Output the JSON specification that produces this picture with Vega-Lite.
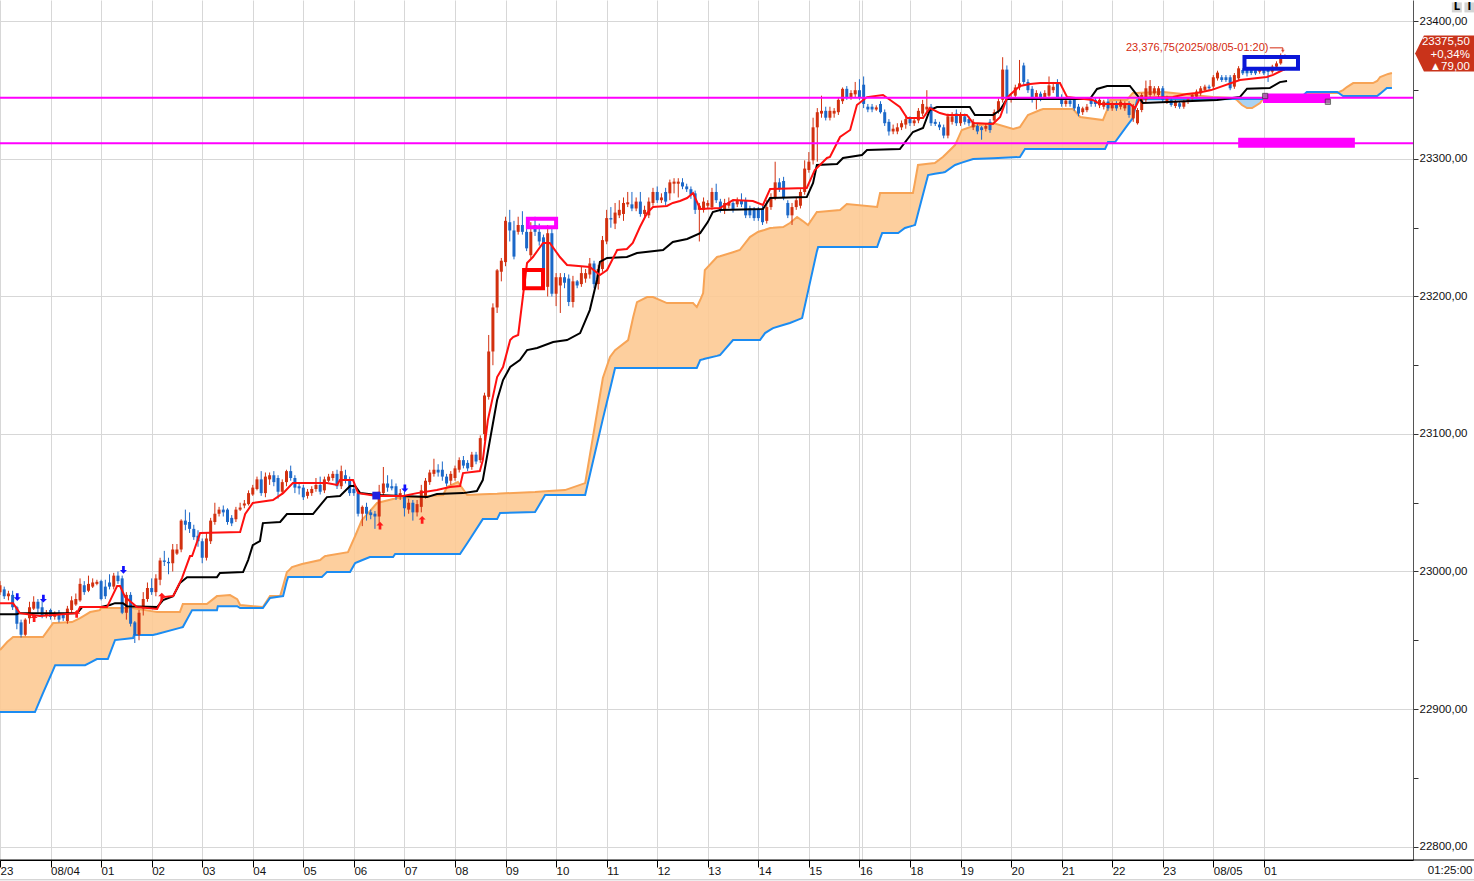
{
  "$schema": "https://vega.github.io/schema/vega-lite/v6.json",
  "width": 1413,
  "height": 860,
  "autosize": {"type": "none"},
  "padding": {"left": 0, "top": 0, "right": 61, "bottom": 21},
  "background": "white",
  "config": {
    "view": {"stroke": null},
    "font": "Liberation Sans",
    "axis": {"labelFont": "Liberation Sans", "titleFont": "Liberation Sans"}
  },
  "datasets": {
    "bars": [
      {"i":0,"o":22985,"h":22993,"l":22983,"c":22990},{"i":1,"o":22987,"h":22989,"l":22980,"c":22982},{"i":2,"o":22982,"h":22986,"l":22979,"c":22984},{"i":3,"o":22983,"h":22986,"l":22972,"c":22974},{"i":4,"o":22974,"h":22975,"l":22958,"c":22962},{"i":5,"o":22963,"h":22965,"l":22952,"c":22954},{"i":6,"o":22954,"h":22966,"l":22953,"c":22965},{"i":7,"o":22966,"h":22978,"l":22962,"c":22974},{"i":8,"o":22973,"h":22982,"l":22972,"c":22978},{"i":9,"o":22978,"h":22980,"l":22970,"c":22973},
      {"i":10,"o":22974,"h":22980,"l":22966,"c":22968},{"i":11,"o":22968,"h":22972,"l":22966,"c":22970},{"i":12,"o":22972,"h":22973,"l":22965,"c":22967},{"i":13,"o":22967,"h":22971,"l":22965,"c":22969},{"i":14,"o":22970,"h":22972,"l":22963,"c":22965},{"i":15,"o":22969,"h":22970,"l":22964,"c":22966},{"i":16,"o":22964,"h":22975,"l":22962,"c":22973},{"i":17,"o":22972,"h":22982,"l":22970,"c":22979},{"i":18,"o":22976,"h":22984,"l":22975,"c":22980},{"i":19,"o":22979,"h":22995,"l":22978,"c":22991},
      {"i":20,"o":22990,"h":22993,"l":22983,"c":22985},{"i":21,"o":22986,"h":22997,"l":22985,"c":22991},{"i":22,"o":22989,"h":22995,"l":22988,"c":22992},{"i":23,"o":22991,"h":22994,"l":22990,"c":22992.5},{"i":24,"o":22993,"h":22994,"l":22979,"c":22980},{"i":25,"o":22989,"h":22994,"l":22980,"c":22982},{"i":26,"o":22992,"h":22998,"l":22987,"c":22989},{"i":27,"o":22989,"h":22999,"l":22987,"c":22997},{"i":28,"o":22997,"h":23000,"l":22991,"c":22993},{"i":29,"o":22995,"h":22997,"l":22969,"c":22970},
      {"i":30,"o":22970,"h":22985,"l":22965,"c":22983},{"i":31,"o":22983,"h":22985,"l":22960,"c":22962},{"i":32,"o":22963,"h":22964,"l":22948,"c":22954},{"i":33,"o":22954,"h":22972,"l":22950,"c":22970},{"i":34,"o":22973,"h":22985,"l":22968,"c":22980},{"i":35,"o":22980,"h":22992,"l":22978,"c":22988},{"i":36,"o":22988,"h":22995,"l":22983,"c":22985},{"i":37,"o":22985,"h":22998,"l":22982,"c":22995},{"i":38,"o":22994,"h":23010,"l":22990,"c":23008},{"i":39,"o":23008,"h":23015,"l":23004,"c":23007},
      {"i":40,"o":23007,"h":23010,"l":22998,"c":23006},{"i":41,"o":23006,"h":23020,"l":23000,"c":23016},{"i":42,"o":23013,"h":23020,"l":23012,"c":23016},{"i":43,"o":23016,"h":23038,"l":23014,"c":23037},{"i":44,"o":23037,"h":23045,"l":23030,"c":23034},{"i":45,"o":23036,"h":23043,"l":23028,"c":23031},{"i":46,"o":23031,"h":23034,"l":23023,"c":23025},{"i":47,"o":23026,"h":23030,"l":23018,"c":23022},{"i":48,"o":23022,"h":23024,"l":23006,"c":23010},{"i":49,"o":23010,"h":23028,"l":23008,"c":23024},
      {"i":50,"o":23022,"h":23039,"l":23020,"c":23037},{"i":51,"o":23036,"h":23050,"l":23034,"c":23042},{"i":52,"o":23042,"h":23047,"l":23040,"c":23045},{"i":53,"o":23045,"h":23048,"l":23040,"c":23043},{"i":54,"o":23045,"h":23046,"l":23034,"c":23036},{"i":55,"o":23039,"h":23041,"l":23033,"c":23035},{"i":56,"o":23038,"h":23047,"l":23036,"c":23045},{"i":57,"o":23045,"h":23050,"l":23044,"c":23046.5},{"i":58,"o":23048,"h":23052,"l":23046,"c":23049.5},{"i":59,"o":23049,"h":23059,"l":23048,"c":23057},
      {"i":60,"o":23056,"h":23063,"l":23055,"c":23061},{"i":61,"o":23060,"h":23069,"l":23059,"c":23067},{"i":62,"o":23067,"h":23073,"l":23055,"c":23057},{"i":63,"o":23057,"h":23072,"l":23054,"c":23069},{"i":64,"o":23067,"h":23072,"l":23063,"c":23070},{"i":65,"o":23070,"h":23073,"l":23062,"c":23065},{"i":66,"o":23068,"h":23070,"l":23053,"c":23058},{"i":67,"o":23058,"h":23067,"l":23056,"c":23065},{"i":68,"o":23065,"h":23074,"l":23062,"c":23073},{"i":69,"o":23073,"h":23077,"l":23066,"c":23068},
      {"i":70,"o":23068,"h":23070,"l":23057,"c":23061},{"i":71,"o":23062,"h":23064,"l":23056,"c":23060.5},{"i":72,"o":23061,"h":23063,"l":23052,"c":23054},{"i":73,"o":23055,"h":23060,"l":23053,"c":23058},{"i":74,"o":23057,"h":23062,"l":23055,"c":23060},{"i":75,"o":23060,"h":23068,"l":23058,"c":23063},{"i":76,"o":23063,"h":23069,"l":23056,"c":23058},{"i":77,"o":23059,"h":23069,"l":23057,"c":23067},{"i":78,"o":23066,"h":23071,"l":23065,"c":23069},{"i":79,"o":23068,"h":23073,"l":23066,"c":23071},
      {"i":80,"o":23071,"h":23074,"l":23060,"c":23062},{"i":81,"o":23062,"h":23077,"l":23060,"c":23073},{"i":82,"o":23070,"h":23074,"l":23064,"c":23067},{"i":83,"o":23067,"h":23069,"l":23055,"c":23057},{"i":84,"o":23060,"h":23064,"l":23055,"c":23057},{"i":85,"o":23057,"h":23058,"l":23040,"c":23042},{"i":86,"o":23042,"h":23048,"l":23033,"c":23047},{"i":87,"o":23047,"h":23050,"l":23037,"c":23042},{"i":88,"o":23043,"h":23045,"l":23038,"c":23041},{"i":89,"o":23042,"h":23044,"l":23031,"c":23040},
      {"i":90,"o":23040,"h":23063,"l":23035,"c":23058},{"i":91,"o":23057,"h":23076,"l":23055,"c":23064},{"i":92,"o":23064,"h":23070,"l":23058,"c":23061},{"i":93,"o":23062,"h":23067,"l":23059,"c":23060.5},{"i":94,"o":23062,"h":23064,"l":23052,"c":23054},{"i":95,"o":23055,"h":23060,"l":23052,"c":23057},{"i":96,"o":23055,"h":23058,"l":23040,"c":23046},{"i":97,"o":23045,"h":23053,"l":23042,"c":23050},{"i":98,"o":23050,"h":23052,"l":23037,"c":23043},{"i":99,"o":23043,"h":23052,"l":23040,"c":23049},
      {"i":100,"o":23047,"h":23063,"l":23043,"c":23059},{"i":101,"o":23055,"h":23068,"l":23053,"c":23066},{"i":102,"o":23065,"h":23074,"l":23063,"c":23072},{"i":103,"o":23071,"h":23082,"l":23069,"c":23074},{"i":104,"o":23074,"h":23078,"l":23069,"c":23072},{"i":105,"o":23074,"h":23080,"l":23066,"c":23069},{"i":106,"o":23069,"h":23071,"l":23062,"c":23064},{"i":107,"o":23066,"h":23073,"l":23063,"c":23071},{"i":108,"o":23068,"h":23077,"l":23066,"c":23075},{"i":109,"o":23074,"h":23083,"l":23072,"c":23081},
      {"i":110,"o":23081,"h":23084,"l":23075,"c":23077},{"i":111,"o":23079,"h":23081,"l":23073,"c":23075},{"i":112,"o":23076,"h":23087,"l":23074,"c":23085},{"i":113,"o":23085,"h":23087,"l":23078,"c":23080},{"i":114,"o":23081,"h":23099,"l":23079,"c":23097},{"i":115,"o":23100,"h":23130,"l":23095,"c":23128},{"i":116,"o":23127,"h":23172,"l":23125,"c":23160},{"i":117,"o":23160,"h":23195,"l":23150,"c":23192},{"i":118,"o":23192,"h":23220,"l":23188,"c":23219},{"i":119,"o":23218,"h":23228,"l":23211,"c":23226},
      {"i":120,"o":23225,"h":23258,"l":23222,"c":23255},{"i":121,"o":23254,"h":23263,"l":23240,"c":23248},{"i":122,"o":23248,"h":23255,"l":23227,"c":23229},{"i":123,"o":23247,"h":23258,"l":23245,"c":23252},{"i":124,"o":23252,"h":23262,"l":23245,"c":23247},{"i":125,"o":23247,"h":23250,"l":23233,"c":23235},{"i":126,"o":23230,"h":23254,"l":23228,"c":23247},{"i":127,"o":23252,"h":23258,"l":23244,"c":23247},{"i":128,"o":23247,"h":23253,"l":23237,"c":23240},{"i":129,"o":23243,"h":23245,"l":23216,"c":23218},
      {"i":130,"o":23207,"h":23252,"l":23200,"c":23246},{"i":131,"o":23246,"h":23250,"l":23200,"c":23202},{"i":132,"o":23202,"h":23217,"l":23193,"c":23214},{"i":133,"o":23208,"h":23217,"l":23188,"c":23214},{"i":134,"o":23214,"h":23217,"l":23206,"c":23210},{"i":135,"o":23213,"h":23216,"l":23193,"c":23196},{"i":136,"o":23196,"h":23215,"l":23192,"c":23211},{"i":137,"o":23211,"h":23212,"l":23206,"c":23208},{"i":138,"o":23209,"h":23222,"l":23207,"c":23217},{"i":139,"o":23213,"h":23220,"l":23210,"c":23217},
      {"i":140,"o":23216,"h":23228,"l":23213,"c":23224},{"i":141,"o":23224,"h":23226,"l":23206,"c":23209},{"i":142,"o":23209,"h":23223,"l":23205,"c":23220},{"i":143,"o":23220,"h":23244,"l":23218,"c":23241},{"i":144,"o":23240,"h":23263,"l":23238,"c":23257},{"i":145,"o":23257,"h":23265,"l":23250,"c":23256},{"i":146,"o":23253,"h":23268,"l":23249,"c":23261},{"i":147,"o":23259,"h":23270,"l":23257,"c":23263},{"i":148,"o":23260,"h":23272,"l":23255,"c":23268},{"i":149,"o":23267,"h":23276,"l":23265,"c":23268.5},
      {"i":150,"o":23267,"h":23276,"l":23262,"c":23264},{"i":151,"o":23264,"h":23272,"l":23262,"c":23269},{"i":152,"o":23269,"h":23276,"l":23258,"c":23260},{"i":153,"o":23260,"h":23266,"l":23258,"c":23263},{"i":154,"o":23259,"h":23272,"l":23257,"c":23269},{"i":155,"o":23268,"h":23279,"l":23266,"c":23276},{"i":156,"o":23276,"h":23280,"l":23268,"c":23270},{"i":157,"o":23270,"h":23275,"l":23268,"c":23272},{"i":158,"o":23276,"h":23279,"l":23266,"c":23269},{"i":159,"o":23275,"h":23285,"l":23270,"c":23283},
      {"i":160,"o":23282,"h":23286,"l":23275,"c":23283.5},{"i":161,"o":23282,"h":23286,"l":23272,"c":23283.5},{"i":162,"o":23283,"h":23286,"l":23278,"c":23280},{"i":163,"o":23280,"h":23282,"l":23276,"c":23278},{"i":164,"o":23278,"h":23280,"l":23271,"c":23274},{"i":165,"o":23275,"h":23277,"l":23260,"c":23263},{"i":166,"o":23263,"h":23268,"l":23240,"c":23266},{"i":167,"o":23263,"h":23272,"l":23261,"c":23269},{"i":168,"o":23266,"h":23270,"l":23264,"c":23268},{"i":169,"o":23265,"h":23279,"l":23263,"c":23276},
      {"i":170,"o":23276,"h":23282,"l":23268,"c":23270},{"i":171,"o":23269,"h":23271,"l":23261,"c":23263},{"i":172,"o":23263,"h":23271,"l":23260,"c":23268},{"i":173,"o":23266,"h":23272,"l":23264,"c":23268},{"i":174,"o":23268,"h":23270,"l":23261,"c":23263},{"i":175,"o":23267,"h":23272,"l":23265,"c":23270},{"i":176,"o":23270,"h":23275,"l":23265,"c":23267},{"i":177,"o":23270,"h":23272,"l":23257,"c":23259},{"i":178,"o":23264,"h":23266,"l":23257,"c":23259},{"i":179,"o":23263,"h":23265,"l":23255,"c":23257},
      {"i":180,"o":23263,"h":23265,"l":23255,"c":23257},{"i":181,"o":23264,"h":23266,"l":23252,"c":23254},{"i":182,"o":23255,"h":23270,"l":23253,"c":23265},{"i":183,"o":23265,"h":23275,"l":23263,"c":23272},{"i":184,"o":23272,"h":23298,"l":23270,"c":23283},{"i":185,"o":23283,"h":23286,"l":23276,"c":23278},{"i":186,"o":23284,"h":23287,"l":23270,"c":23272},{"i":187,"o":23268,"h":23270,"l":23257,"c":23259},{"i":188,"o":23259,"h":23268,"l":23252,"c":23265},{"i":189,"o":23265,"h":23272,"l":23263,"c":23270},
      {"i":190,"o":23266,"h":23278,"l":23264,"c":23276},{"i":191,"o":23276,"h":23299,"l":23274,"c":23293},{"i":192,"o":23292,"h":23305,"l":23290,"c":23298},{"i":193,"o":23299,"h":23330,"l":23296,"c":23323},{"i":194,"o":23323,"h":23337,"l":23298,"c":23334},{"i":195,"o":23333,"h":23346,"l":23330,"c":23335},{"i":196,"o":23335,"h":23338,"l":23328,"c":23330},{"i":197,"o":23330,"h":23338,"l":23328,"c":23335},{"i":198,"o":23333,"h":23337,"l":23330,"c":23335},{"i":199,"o":23334,"h":23345,"l":23332,"c":23343},
      {"i":200,"o":23342,"h":23352,"l":23340,"c":23351},{"i":201,"o":23351,"h":23353,"l":23343,"c":23345},{"i":202,"o":23345,"h":23350,"l":23343,"c":23348},{"i":203,"o":23347,"h":23356,"l":23345,"c":23350},{"i":204,"o":23350,"h":23358,"l":23343,"c":23345},{"i":205,"o":23354,"h":23360,"l":23337,"c":23340},{"i":206,"o":23338,"h":23340,"l":23334,"c":23336},{"i":207,"o":23338,"h":23340,"l":23334,"c":23336},{"i":208,"o":23336,"h":23339,"l":23335,"c":23337.5},{"i":209,"o":23340,"h":23342,"l":23333,"c":23334},
      {"i":210,"o":23334,"h":23336,"l":23324,"c":23326},{"i":211,"o":23327,"h":23329,"l":23317,"c":23320},{"i":212,"o":23320,"h":23325,"l":23318,"c":23322},{"i":213,"o":23320,"h":23326,"l":23318,"c":23323},{"i":214,"o":23323,"h":23328,"l":23321,"c":23326},{"i":215,"o":23325,"h":23332,"l":23322,"c":23329},{"i":216,"o":23329,"h":23331,"l":23324,"c":23326},{"i":217,"o":23326,"h":23330,"l":23324,"c":23328},{"i":218,"o":23328,"h":23337,"l":23326,"c":23335},{"i":219,"o":23333,"h":23343,"l":23331,"c":23340},
      {"i":220,"o":23336,"h":23350,"l":23334,"c":23338},{"i":221,"o":23338,"h":23340,"l":23324,"c":23326},{"i":222,"o":23327,"h":23329,"l":23324,"c":23325.5},{"i":223,"o":23325,"h":23327,"l":23321,"c":23323},{"i":224,"o":23323,"h":23325,"l":23315,"c":23317},{"i":225,"o":23317,"h":23333,"l":23315,"c":23331},{"i":226,"o":23327,"h":23334,"l":23325,"c":23331},{"i":227,"o":23333,"h":23336,"l":23324,"c":23326},{"i":228,"o":23326,"h":23334,"l":23324,"c":23332},{"i":229,"o":23331,"h":23333,"l":23325,"c":23327},
      {"i":230,"o":23329,"h":23331,"l":23324,"c":23326},{"i":231,"o":23323,"h":23329,"l":23321,"c":23327},{"i":232,"o":23324,"h":23326,"l":23318,"c":23320},{"i":233,"o":23323,"h":23324,"l":23314,"c":23321},{"i":234,"o":23322,"h":23326,"l":23320,"c":23324},{"i":235,"o":23327,"h":23329,"l":23319,"c":23321},{"i":236,"o":23328,"h":23336,"l":23326,"c":23334},{"i":237,"o":23335,"h":23344,"l":23333,"c":23342},{"i":238,"o":23343,"h":23374,"l":23341,"c":23365},{"i":239,"o":23365,"h":23368,"l":23333,"c":23344},
      {"i":240,"o":23343,"h":23347,"l":23341,"c":23345},{"i":241,"o":23346,"h":23354,"l":23344,"c":23352},{"i":242,"o":23352,"h":23372,"l":23350,"c":23355},{"i":243,"o":23368,"h":23370,"l":23354,"c":23356},{"i":244,"o":23356,"h":23358,"l":23348,"c":23350},{"i":245,"o":23351,"h":23353,"l":23341,"c":23343},{"i":246,"o":23344,"h":23350,"l":23336,"c":23348},{"i":247,"o":23347.5,"h":23349,"l":23342,"c":23344},{"i":248,"o":23345,"h":23350,"l":23343,"c":23348},{"i":249,"o":23346,"h":23360,"l":23344,"c":23353.5},
      {"i":250,"o":23350,"h":23356,"l":23348,"c":23352.5},{"i":251,"o":23355,"h":23358,"l":23343,"c":23345},{"i":252,"o":23345,"h":23347,"l":23338,"c":23340},{"i":253,"o":23340,"h":23344,"l":23338,"c":23342.5},{"i":254,"o":23342.5,"h":23344,"l":23338,"c":23340},{"i":255,"o":23343,"h":23345,"l":23335,"c":23336.8},{"i":256,"o":23338,"h":23340,"l":23331,"c":23333},{"i":257,"o":23334,"h":23338,"l":23332,"c":23336.8},{"i":258,"o":23335.5,"h":23340,"l":23334,"c":23338},{"i":259,"o":23343,"h":23345,"l":23338,"c":23340},
      {"i":260,"o":23343,"h":23345,"l":23338,"c":23340},{"i":261,"o":23339,"h":23345,"l":23337,"c":23343},{"i":262,"o":23338,"h":23343,"l":23336,"c":23341.7},{"i":263,"o":23341.7,"h":23344,"l":23335,"c":23336.8},{"i":264,"o":23336.8,"h":23342,"l":23335,"c":23340.5},{"i":265,"o":23340.5,"h":23342,"l":23335,"c":23336.8},{"i":266,"o":23338,"h":23343,"l":23336,"c":23341.7},{"i":267,"o":23336.8,"h":23342,"l":23335,"c":23340.5},{"i":268,"o":23340.5,"h":23342,"l":23330,"c":23332},{"i":269,"o":23329.5,"h":23340,"l":23327,"c":23338},
      {"i":270,"o":23326,"h":23337,"l":23325,"c":23335.6},{"i":271,"o":23335.6,"h":23348,"l":23334,"c":23346.5},{"i":272,"o":23343,"h":23357,"l":23341,"c":23351.4},{"i":273,"o":23346.5,"h":23357.4,"l":23345,"c":23353},{"i":274,"o":23347.7,"h":23353,"l":23346,"c":23351.4},{"i":275,"o":23346.5,"h":23353,"l":23345,"c":23351.4},{"i":276,"o":23351.4,"h":23353,"l":23341,"c":23342.9},{"i":277,"o":23341.7,"h":23346,"l":23340,"c":23344.1},{"i":278,"o":23342.9,"h":23345,"l":23338,"c":23339.3},{"i":279,"o":23338.5,"h":23343,"l":23337,"c":23341.7},
      {"i":280,"o":23340.5,"h":23342,"l":23336.5,"c":23338},{"i":281,"o":23338,"h":23343,"l":23336.5,"c":23341.7},{"i":282,"o":23341.7,"h":23345,"l":23340,"c":23343.4},{"i":283,"o":23344,"h":23348,"l":23342.5,"c":23346.5},{"i":284,"o":23345.3,"h":23350.5,"l":23344,"c":23349},{"i":285,"o":23347.7,"h":23353,"l":23346,"c":23351.4},{"i":286,"o":23350.2,"h":23354,"l":23349,"c":23352.6},{"i":287,"o":23352.6,"h":23354,"l":23350,"c":23351.4},{"i":288,"o":23352.6,"h":23361,"l":23351,"c":23359.4},{"i":289,"o":23358.6,"h":23364.2,"l":23357,"c":23362.8},
      {"i":290,"o":23359.4,"h":23361,"l":23356,"c":23357.4},{"i":291,"o":23359.4,"h":23361,"l":23356,"c":23357.4},{"i":292,"o":23359.4,"h":23361,"l":23350,"c":23351.4},{"i":293,"o":23352.6,"h":23362.5,"l":23351,"c":23361},{"i":294,"o":23358.6,"h":23367.5,"l":23357,"c":23365.9},{"i":295,"o":23364.7,"h":23366,"l":23361,"c":23362.3},{"i":296,"o":23364.7,"h":23366,"l":23360,"c":23362.3},{"i":297,"o":23364.7,"h":23366,"l":23361,"c":23362.5},{"i":298,"o":23364.5,"h":23366,"l":23361,"c":23362.3},{"i":299,"o":23363.5,"h":23366,"l":23362,"c":23364.7},
      {"i":300,"o":23364.7,"h":23366,"l":23361,"c":23362.3},{"i":301,"o":23364.7,"h":23365.5,"l":23356,"c":23363.3},{"i":302,"o":23363.5,"h":23368.5,"l":23362,"c":23367.1},{"i":303,"o":23367.1,"h":23371,"l":23366,"c":23369.5},{"i":304,"o":23369.5,"h":23376.75,"l":23368.5,"c":23374.5},{"i":305,"o":23374.5,"h":23376,"l":23373.5,"c":23375.5}
    ],
    "cloud": [
      {"i":0,"a":22942.9,"b":22897.8},{"i":1.7,"a":22948.7,"b":22897.8},{"i":3.1,"a":22952.3,"b":22897.8},{"i":8.3,"a":22952.3,"b":22897.8},{"i":10.2,"a":22952.3,"b":22911.6},{"i":12.6,"a":22962.5,"b":22928.3},{"i":13.1,"a":22962.5,"b":22931.9},{"i":17.1,"a":22963.2,"b":22931.9},{"i":19,"a":22966.1,"b":22931.9},{"i":20.2,"a":22968.3,"b":22931.9},
      {"i":21.4,"a":22970.5,"b":22933.8},{"i":23,"a":22971.5,"b":22936.3},{"i":23.7,"a":22971.9,"b":22936.3},{"i":24,"a":22973.4,"b":22936.3},{"i":25.6,"a":22973.4,"b":22936.3},{"i":27.3,"a":22973.4,"b":22950.1},{"i":31.6,"a":22973.4,"b":22951.6},{"i":31.8,"a":22973.2,"b":22953.8},{"i":36.3,"a":22971.0,"b":22953.8},{"i":37.3,"a":22970.5,"b":22954.5},
      {"i":42.7,"a":22970.5,"b":22959.0},{"i":43.4,"a":22976.3,"b":22959.6},{"i":45.6,"a":22976.3,"b":22971.9},{"i":49.1,"a":22976.3,"b":22971.9},{"i":51.5,"a":22982.1,"b":22971.9},{"i":51.7,"a":22982.1,"b":22974.8},{"i":54.6,"a":22982.9,"b":22974.8},{"i":56.3,"a":22979.9,"b":22974.8},{"i":57,"a":22975.6,"b":22973.4},{"i":62.4,"a":22974.1,"b":22973.4},
      {"i":64.1,"a":22982.1,"b":22980.7},{"i":66.5,"a":22982.1,"b":22981.8},{"i":67.2,"a":22989.6,"b":22982.1},{"i":68.1,"a":22999.6,"b":22993.2},{"i":68.4,"a":23000.3,"b":22996.0},{"i":69.3,"a":23003.2,"b":22996.0},{"i":71.7,"a":23005.4,"b":22996.0},{"i":76,"a":23008.3,"b":22996.0},{"i":76.4,"a":23009.5,"b":22996.0},{"i":77.1,"a":23011.2,"b":22998.1},
      {"i":77.6,"a":23011.4,"b":22999.6},{"i":82.6,"a":23014.1,"b":22999.6},{"i":83.1,"a":23017.5,"b":22999.6},{"i":84.3,"a":23025.8,"b":23006.1},{"i":85.9,"a":23037.4,"b":23008.2},{"i":87.8,"a":23043.9,"b":23010.5},{"i":89.5,"a":23049.8,"b":23010.5},{"i":93.3,"a":23052.7,"b":23010.5},{"i":93.8,"a":23053.0,"b":23012.7},{"i":94.2,"a":23053.4,"b":23012.7},
      {"i":105.2,"a":23055.6,"b":23012.7},{"i":106.1,"a":23061.4,"b":23012.7},{"i":108.7,"a":23065.0,"b":23012.7},{"i":109.2,"a":23062.9,"b":23012.7},{"i":110.9,"a":23055.6,"b":23020.5},{"i":114.6,"a":23056.1,"b":23038.1},{"i":118,"a":23056.5,"b":23038.1},{"i":118.7,"a":23056.7,"b":23042.5},{"i":127,"a":23057.8,"b":23043.2},{"i":129.4,"a":23058.3,"b":23055.6},
      {"i":134.1,"a":23059.2,"b":23055.6},{"i":138.9,"a":23064.3,"b":23055.6},{"i":143.1,"a":23140.7,"b":23111.0},{"i":144.8,"a":23156.0,"b":23132.5},{"i":146,"a":23161.0,"b":23148.0},{"i":149.1,"a":23168.3,"b":23148.0},{"i":150.3,"a":23185.0,"b":23148.0},{"i":151.2,"a":23195.9,"b":23148.0},{"i":153.6,"a":23199.6,"b":23148.0},{"i":155,"a":23199.6,"b":23148.0},
      {"i":158.3,"a":23195.2,"b":23148.0},{"i":164.5,"a":23195.2,"b":23148.0},{"i":165.4,"a":23192.3,"b":23148.0},{"i":166.2,"a":23197.4,"b":23153.8},{"i":166.9,"a":23202.5,"b":23154.3},{"i":167.3,"a":23219.2,"b":23154.7},{"i":170.2,"a":23228.7,"b":23156.8},{"i":170.9,"a":23229.3,"b":23157.4},{"i":174,"a":23232.2,"b":23168.3},{"i":175.6,"a":23233.8,"b":23168.3},
      {"i":178,"a":23243.2,"b":23168.3},{"i":179.9,"a":23246.9,"b":23168.3},{"i":180.4,"a":23247.4,"b":23168.3},{"i":181.6,"a":23248.5,"b":23173.4},{"i":182.8,"a":23249.8,"b":23175.7},{"i":183.5,"a":23249.9,"b":23177.0},{"i":185.9,"a":23250.5,"b":23179.2},{"i":187.5,"a":23253.4,"b":23180.7},{"i":189.2,"a":23257.8,"b":23182.8},{"i":190.4,"a":23255.2,"b":23184.3},
      {"i":191.8,"a":23252.0,"b":23203.7},{"i":193.9,"a":23261.4,"b":23232.8},{"i":194.2,"a":23261.5,"b":23236.0},{"i":199.4,"a":23262.9,"b":23236.0},{"i":201,"a":23267.2,"b":23236.0},{"i":208.2,"a":23265.1,"b":23236.0},{"i":208.9,"a":23275.2,"b":23242.1},{"i":209.4,"a":23275.2,"b":23246.1},{"i":213.2,"a":23275.2,"b":23246.1},{"i":214.8,"a":23275.2,"b":23249.8},
      {"i":216.7,"a":23275.2,"b":23251.5},{"i":217.2,"a":23283.4,"b":23252.0},{"i":217.9,"a":23295.6,"b":23260.3},{"i":220.3,"a":23296.5,"b":23288.3},{"i":221.9,"a":23297.0,"b":23289.2},{"i":223.8,"a":23301.4,"b":23290.2},{"i":224.3,"a":23302.9,"b":23290.5},{"i":226.7,"a":23310.1,"b":23295.6},{"i":228.3,"a":23321.1,"b":23297.3},{"i":231,"a":23324.0,"b":23300.0},
      {"i":235.7,"a":23326.1,"b":23300.6},{"i":240.5,"a":23321.8,"b":23301.2},{"i":242.1,"a":23323.2,"b":23301.4},{"i":243.3,"a":23328.7,"b":23307.2},{"i":244,"a":23332.0,"b":23307.2},{"i":246.9,"a":23335.6,"b":23307.2},{"i":247.6,"a":23336.3,"b":23307.2},{"i":254.7,"a":23336.3,"b":23307.2},{"i":256.4,"a":23330.5,"b":23307.2},{"i":261.8,"a":23328.3,"b":23307.2},
      {"i":262.3,"a":23332.0,"b":23307.2},{"i":262.8,"a":23335.6,"b":23310.6},{"i":263,"a":23338.0,"b":23312.3},{"i":263.5,"a":23342.9,"b":23312.3},{"i":264.7,"a":23342.9,"b":23312.3},{"i":267.5,"a":23342.9,"b":23324.0},{"i":268.9,"a":23348.0,"b":23329.8},{"i":269.9,"a":23348.0,"b":23342.9},{"i":270.6,"a":23348.1,"b":23343.4},{"i":276.1,"a":23348.7,"b":23343.5},
      {"i":280.8,"a":23347.2,"b":23343.5},{"i":287.9,"a":23345.0,"b":23343.5},{"i":292.7,"a":23344.3,"b":23343.6},{"i":293.6,"a":23342.9,"b":23343.6},{"i":294.8,"a":23339.2,"b":23343.6},{"i":296,"a":23337.0,"b":23343.6},{"i":297.2,"a":23337.0,"b":23343.6},{"i":299.1,"a":23340.7,"b":23343.6},{"i":299.8,"a":23343.6,"b":23343.6},{"i":308.6,"a":23344.0,"b":23344.1},
      {"i":310.2,"a":23348.0,"b":23348.7},{"i":317.4,"a":23348.0,"b":23348.7},{"i":318.8,"a":23350.1,"b":23345.8},{"i":319.7,"a":23352.3,"b":23345.8},{"i":321.2,"a":23355.2,"b":23345.8},{"i":325.9,"a":23355.2,"b":23345.8},{"i":326.9,"a":23356.7,"b":23345.8},{"i":327.6,"a":23359.6,"b":23347.5},{"i":329.2,"a":23361.5,"b":23351.6},{"i":329.5,"a":23361.8,"b":23351.6},
      {"i":330.4,"a":23362.5,"b":23351.6}
    ],
    "tenkan": [
      {"i":0,"p":22977},{"i":3.1,"p":22977},{"i":4.7,"p":22969.7},{"i":9.5,"p":22967.6},{"i":18.3,"p":22969.7},{"i":19,"p":22974.1},{"i":25.4,"p":22974.1},{"i":27.8,"p":22989.4},{"i":28.5,"p":22989.4},{"i":29.7,"p":22981.4},
      {"i":32.5,"p":22974.1},{"i":37.3,"p":22972.7},{"i":38.7,"p":22981.4},{"i":41.1,"p":22982.1},{"i":43.2,"p":22995.2},{"i":45.1,"p":23011.2},{"i":45.6,"p":23011.2},{"i":47.5,"p":23028},{"i":57,"p":23028.7},{"i":58.2,"p":23041.8},
      {"i":60,"p":23049.8},{"i":64.8,"p":23052},{"i":67.2,"p":23057},{"i":69.5,"p":23064.3},{"i":77.6,"p":23064.3},{"i":80,"p":23062.9},{"i":80.7,"p":23066.5},{"i":83.8,"p":23066.5},{"i":85,"p":23057},{"i":89.5,"p":23054.9},
      {"i":95.7,"p":23054.9},{"i":99,"p":23057},{"i":103.7,"p":23059.2},{"i":106.8,"p":23061.4},{"i":109.2,"p":23062.1},{"i":109.9,"p":23071.6},{"i":113.9,"p":23073},{"i":114.6,"p":23080.9},{"i":115.8,"p":23110.1},{"i":118,"p":23141.4},
      {"i":119.4,"p":23148.7},{"i":121.1,"p":23168.3},{"i":121.8,"p":23170.5},{"i":123,"p":23172},{"i":125.1,"p":23224.3},{"i":126.5,"p":23228.7},{"i":128.9,"p":23238.9},{"i":130.5,"p":23238.9},{"i":132.9,"p":23228.7},{"i":134.6,"p":23222.9},
      {"i":140,"p":23221.4},{"i":142.4,"p":23215.6},{"i":144.1,"p":23219.2},{"i":146.5,"p":23233.8},{"i":148.8,"p":23234.5},{"i":150.2,"p":23238.9},{"i":151.9,"p":23250.5},{"i":153.6,"p":23260.7},{"i":155,"p":23265.1},{"i":158.3,"p":23265.8},
      {"i":159.7,"p":23268},{"i":161.4,"p":23269.4},{"i":163.1,"p":23271.6},{"i":164.5,"p":23275.2},{"i":166.2,"p":23263.6},{"i":170.9,"p":23264.3},{"i":174,"p":23270.1},{"i":178.7,"p":23269.4},{"i":181.1,"p":23266.5},{"i":182.8,"p":23278.1},
      {"i":191.5,"p":23278.9},{"i":193.4,"p":23292},{"i":196.3,"p":23300.7},{"i":197,"p":23301.4},{"i":199.4,"p":23316},{"i":201.8,"p":23321.1},{"i":203.4,"p":23339.2},{"i":205.8,"p":23345},{"i":209.6,"p":23346.5},{"i":211.3,"p":23342.9},
      {"i":213.6,"p":23337.8},{"i":215.3,"p":23329.8},{"i":219.1,"p":23329.8},{"i":220.7,"p":23337},{"i":223.1,"p":23333.4},{"i":224.8,"p":23332},{"i":229.5,"p":23332},{"i":231,"p":23326.1},{"i":235.7,"p":23325.4},{"i":237.4,"p":23330.5},
      {"i":239,"p":23344.3},{"i":239.7,"p":23346.5},{"i":242.1,"p":23353.1},{"i":244.5,"p":23354.5},{"i":246.9,"p":23355.2},{"i":251.6,"p":23355.2},{"i":253.3,"p":23345},{"i":259.4,"p":23342.9},{"i":261.1,"p":23340},{"i":268.2,"p":23340},
      {"i":269.4,"p":23337},{"i":270.6,"p":23344.3},{"i":278.4,"p":23345},{"i":281.7,"p":23347.2},{"i":284.1,"p":23348},{"i":287.5,"p":23350.1},{"i":294.3,"p":23357.4},{"i":300.7,"p":23359.6},{"i":302.2,"p":23361.1},{"i":304.5,"p":23364.7},
      {"i":305,"p":23365}
    ],
    "kijun": [
      {"i":0,"p":22969},{"i":4,"p":22969},{"i":4.7,"p":22969.7},{"i":18.3,"p":22969.7},{"i":19.5,"p":22974.1},{"i":23.7,"p":22974.1},{"i":26.1,"p":22975.6},{"i":27.3,"p":22977},{"i":29.2,"p":22977},{"i":30.1,"p":22974.8},
      {"i":37.3,"p":22974.1},{"i":38.7,"p":22979.2},{"i":41.1,"p":22982.1},{"i":42.7,"p":22991.6},{"i":44.4,"p":22995.9},{"i":51.5,"p":22995.9},{"i":52.2,"p":22998.9},{"i":57.7,"p":22999.6},{"i":58.9,"p":23008.3},{"i":60,"p":23019.2},
      {"i":61.7,"p":23022.1},{"i":62.4,"p":23035.2},{"i":66.5,"p":23036},{"i":68.1,"p":23041.8},{"i":74.3,"p":23041.8},{"i":77.6,"p":23054.1},{"i":80.7,"p":23054.9},{"i":83.1,"p":23062.1},{"i":84.3,"p":23062.1},{"i":85.5,"p":23057},
      {"i":89.5,"p":23055.6},{"i":101.4,"p":23054.1},{"i":103.7,"p":23056.3},{"i":109.9,"p":23057},{"i":113.2,"p":23058.5},{"i":114.6,"p":23066.5},{"i":116.3,"p":23095.6},{"i":118,"p":23124.7},{"i":119.4,"p":23139.2},{"i":121.1,"p":23148.7},
      {"i":123.4,"p":23153.8},{"i":125.1,"p":23161},{"i":127.5,"p":23162.5},{"i":131.3,"p":23166.9},{"i":134.6,"p":23168.3},{"i":137.7,"p":23173.4},{"i":140,"p":23190.1},{"i":141.7,"p":23212},{"i":142.4,"p":23225.1},{"i":144.1,"p":23228},
      {"i":148.8,"p":23228.7},{"i":151.2,"p":23231.6},{"i":157.4,"p":23233.8},{"i":159.7,"p":23239.6},{"i":163.1,"p":23241.8},{"i":166.2,"p":23246.1},{"i":168,"p":23254.1},{"i":169.2,"p":23261.4},{"i":170.9,"p":23262.9},{"i":181.1,"p":23263.6},
      {"i":182.8,"p":23271.6},{"i":191.5,"p":23272.3},{"i":193,"p":23282.5},{"i":193.9,"p":23295.6},{"i":198.7,"p":23296.3},{"i":200.1,"p":23300.7},{"i":204.6,"p":23302.9},{"i":205.8,"p":23306.5},{"i":213.6,"p":23307.2},{"i":216.7,"p":23319.6},
      {"i":219.1,"p":23322.5},{"i":220.7,"p":23335.6},{"i":222.4,"p":23337.8},{"i":230.2,"p":23337.8},{"i":231.4,"p":23332},{"i":235.7,"p":23332},{"i":237.4,"p":23335.6},{"i":239,"p":23343.6},{"i":258.7,"p":23343.6},{"i":260.4,"p":23350.9},
      {"i":262.8,"p":23353.1},{"i":268.2,"p":23353.1},{"i":269.9,"p":23346.5},{"i":271.3,"p":23340.7},{"i":288.9,"p":23342.9},{"i":294.3,"p":23345},{"i":296,"p":23351.1},{"i":301.4,"p":23351.6},{"i":303.8,"p":23355.9},{"i":305.5,"p":23356.7}
    ]
  },
  "encoding": {
    "x": {
      "field": "i",
      "type": "quantitative",
      "title": "01:25:00",
      "scale": {"domain": [0, 335.4], "nice": false, "zero": false, "padding": 0},
      "axis": {
        "orient": "bottom",
        "values": [0, 12, 24, 36, 48, 60, 72, 84, 96, 108, 120, 132, 144, 156, 168, 180, 192, 204, 204.7, 216, 228, 240, 252, 264, 276, 288, 300],
        "labelExpr": "datum.value % 12 === 0 ? ['23','08/04','01','02','03','04','05','06','07','08','09','10','11','12','13','14','15','16','18','19','20','21','22','23','08/05','01'][datum.value / 12] : ''",
        "labelAlign": "left",
        "labelBaseline": "top",
        "labelDx": 2,
        "labelPadding": -2,
        "labelFlush": false,
        "labelOverlap": false,
        "labelBound": false,
        "labelFontSize": 11.5,
        "labelColor": "#111111",
        "tickSize": 7,
        "tickColor": "#000000",
        "tickOpacity": {"condition": {"test": "datum.value % 12 === 0", "value": 1}, "value": 0},
        "domainColor": "#000000",
        "grid": true,
        "gridColor": "#d7d7d7",
        "titleX": 1472,
        "titleY": 4,
        "titleAlign": "right",
        "titleBaseline": "top",
        "titleFontSize": 11.5,
        "titleFontWeight": "normal",
        "titleColor": "#111111"
      }
    }
  },
  "layer": [
    {
      "data": {"name": "cloud"},
      "mark": {"type": "area", "color": "#fdca94", "opacity": 0.9},
      "encoding": {
        "y": {
          "field": "a",
          "type": "quantitative",
          "title": null,
          "scale": {"domain": [22790.2, 23415.6], "nice": false, "zero": false, "padding": 0},
          "axis": {
            "orient": "right",
            "values": [22800, 22825, 22850, 22875, 22900, 22925, 22950, 22975, 23000, 23025, 23050, 23075, 23100, 23125, 23150, 23175, 23200, 23225, 23250, 23275, 23300, 23325, 23350, 23375, 23400],
            "labelExpr": "datum.value % 100 === 0 ? replace(format(datum.value, '.2f'), '.', ',') : ''",
            "labelFontSize": 11.5,
            "labelColor": "#111111",
            "labelPadding": 1,
            "labelBaseline": "middle",
            "labelOverlap": false,
            "labelFlush": false,
            "tickSize": 5,
            "tickColor": "#333333",
            "domainColor": "#555555",
            "grid": true,
            "gridColor": {"condition": {"test": "datum.value % 100 === 0", "value": "#d7d7d7"}, "value": "rgba(0,0,0,0)"}
          }
        },
        "y2": {"field": "b"}
      }
    },
    {
      "data": {"name": "cloud"},
      "transform": [{"filter": "datum.b >= datum.a"}],
      "mark": {"type": "area", "color": "#a9d2f2"},
      "encoding": {
        "y": {"field": "a", "type": "quantitative", "title": null, "scale": {"domain": [22790.2, 23415.6], "nice": false, "zero": false, "padding": 0}},
        "y2": {"field": "b"}
      }
    },
    {
      "data": {"name": "cloud"},
      "mark": {"type": "line", "color": "#f7a456", "strokeWidth": 2},
      "encoding": {"y": {"field": "a", "type": "quantitative", "title": null, "scale": {"domain": [22790.2, 23415.6], "nice": false, "zero": false, "padding": 0}}}
    },
    {
      "data": {"name": "cloud"},
      "mark": {"type": "line", "color": "#1b8cf2", "strokeWidth": 2},
      "encoding": {"y": {"field": "b", "type": "quantitative", "title": null, "scale": {"domain": [22790.2, 23415.6], "nice": false, "zero": false, "padding": 0}}}
    },
    {
      "data": {"name": "bars"},
      "mark": {"type": "rule", "strokeWidth": 1},
      "encoding": {
        "y": {"field": "l", "type": "quantitative", "title": null, "scale": {"domain": [22790.2, 23415.6], "nice": false, "zero": false, "padding": 0}},
        "y2": {"field": "h"},
        "color": {"condition": {"test": "datum.c >= datum.o", "value": "#d2300f"}, "value": "#1b68c8"}
      }
    },
    {
      "data": {"name": "bars"},
      "mark": {"type": "bar", "size": 3},
      "encoding": {
        "y": {"field": "o", "type": "quantitative", "title": null, "scale": {"domain": [22790.2, 23415.6], "nice": false, "zero": false, "padding": 0}},
        "y2": {"field": "c"},
        "color": {"condition": {"test": "datum.c >= datum.o", "value": "#d2300f"}, "value": "#1b68c8"}
      }
    },
    {
      "data": {"name": "kijun"},
      "mark": {"type": "line", "color": "#000000", "strokeWidth": 2},
      "encoding": {"y": {"field": "p", "type": "quantitative", "title": null, "scale": {"domain": [22790.2, 23415.6], "nice": false, "zero": false, "padding": 0}}}
    },
    {
      "data": {"name": "tenkan"},
      "mark": {"type": "line", "color": "#ff1010", "strokeWidth": 2},
      "encoding": {"y": {"field": "p", "type": "quantitative", "title": null, "scale": {"domain": [22790.2, 23415.6], "nice": false, "zero": false, "padding": 0}}}
    },
    {
      "data": {"values": [{"i": 0, "i2": 335.4, "p": 23344.5}, {"i": 0, "i2": 335.4, "p": 23311.5}]},
      "mark": {"type": "rule", "color": "#ff00ff", "strokeWidth": 2},
      "encoding": {
        "x2": {"field": "i2"},
        "y": {"field": "p", "type": "quantitative", "title": null, "scale": {"domain": [22790.2, 23415.6], "nice": false, "zero": false, "padding": 0}}
      }
    },
    {
      "data": {"values": [{"i": 0, "i2": 350, "p": 22790.2}]},
      "mark": {"type": "rule", "color": "#000000", "strokeWidth": 1},
      "encoding": {
        "x2": {"field": "i2"},
        "y": {"field": "p", "type": "quantitative", "title": null, "scale": {"domain": [22790.2, 23415.6], "nice": false, "zero": false, "padding": 0}}
      }
    },
    {
      "data": {"values": [{"i": 0, "i2": 350, "p": 22775.8}]},
      "mark": {"type": "rule", "color": "#c4c4c4", "strokeWidth": 1},
      "encoding": {
        "x2": {"field": "i2"},
        "y": {"field": "p", "type": "quantitative", "title": null, "scale": {"domain": [22790.2, 23415.6], "nice": false, "zero": false, "padding": 0}}
      }
    },
    {
      "data": {"values": [{"i": 299.8, "i2": 315.7, "p": 23347.6, "p2": 23340.7}, {"i": 293.9, "i2": 321.6, "p": 23315.5, "p2": 23308.2}]},
      "mark": {"type": "rect", "color": "#ff00ff"},
      "encoding": {
        "x2": {"field": "i2"},
        "y": {"field": "p", "type": "quantitative", "title": null, "scale": {"domain": [22790.2, 23415.6], "nice": false, "zero": false, "padding": 0}},
        "y2": {"field": "p2"}
      }
    },
    {
      "data": {"values": [{"i": 300.3, "p": 23345.8}, {"i": 315.2, "p": 23341.6}]},
      "mark": {"type": "point", "shape": "square", "filled": true, "size": 28, "color": "#8a8a8a", "stroke": "#333333", "strokeWidth": 1},
      "encoding": {"y": {"field": "p", "type": "quantitative", "title": null, "scale": {"domain": [22790.2, 23415.6], "nice": false, "zero": false, "padding": 0}}}
    },
    {
      "data": {"values": [
        {"k": "box1", "i": 295.4, "i2": 308.1, "p": 23374.1, "p2": 23365.6},
        {"k": "box2", "i": 124.4, "i2": 128.9, "p": 23219.2, "p2": 23206.0},
        {"k": "box3", "i": 125.3, "i2": 132.0, "p": 23256.5, "p2": 23250.3}
      ]},
      "mark": {"type": "rect", "fillOpacity": 0, "strokeWidth": 4},
      "encoding": {
        "x2": {"field": "i2"},
        "y": {"field": "p", "type": "quantitative", "title": null, "scale": {"domain": [22790.2, 23415.6], "nice": false, "zero": false, "padding": 0}},
        "y2": {"field": "p2"},
        "stroke": {"field": "k", "type": "nominal", "legend": null, "scale": {"domain": ["box1", "box2", "box3"], "range": ["#0a16d8", "#ff0000", "#ff00ff"]}}
      }
    },
    {
      "data": {"values": [
        {"k": "dn", "i": 4.1, "p": 22981.4}, {"k": "dn", "i": 10.3, "p": 22980.2}, {"k": "dn", "i": 29.3, "p": 23001.2}, {"k": "dn", "i": 96.1, "p": 23060.5},
        {"k": "up", "i": 8.1, "p": 22966.1}, {"k": "up", "i": 18.2, "p": 22969.2}, {"k": "up", "i": 38.4, "p": 22981.8}, {"k": "up", "i": 90.2, "p": 23033.4}, {"k": "up", "i": 100.2, "p": 23037.6},
        {"k": "sq", "i": 89.3, "p": 23055.2}
      ]},
      "mark": {"type": "point", "filled": true, "size": 60, "opacity": 1, "strokeWidth": 0},
      "encoding": {
        "y": {"field": "p", "type": "quantitative", "title": null, "scale": {"domain": [22790.2, 23415.6], "nice": false, "zero": false, "padding": 0}},
        "shape": {"field": "k", "type": "nominal", "legend": null, "scale": {"domain": ["dn", "up", "sq"], "range": ["M0,1L0.9,0.05L0.35,0.05L0.35,-1L-0.35,-1L-0.35,0.05L-0.9,0.05Z", "M0,-1L0.9,-0.05L0.35,-0.05L0.35,1L-0.35,1L-0.35,-0.05L-0.9,-0.05Z", "square"]}},
        "color": {"field": "k", "type": "nominal", "legend": null, "scale": {"domain": ["dn", "up", "sq"], "range": ["#1010ff", "#ff1a1a", "#2020e0"]}}
      }
    },
    {
      "data": {"values": [{"i": 301.1, "p": 23380.8, "t": "23,376,75(2025/08/05-01:20)"}]},
      "mark": {"type": "text", "align": "right", "baseline": "middle", "fontSize": 11, "color": "#d42a10"},
      "encoding": {
        "y": {"field": "p", "type": "quantitative", "title": null, "scale": {"domain": [22790.2, 23415.6], "nice": false, "zero": false, "padding": 0}},
        "text": {"field": "t"}
      }
    },
    {
      "data": {"values": [{"i": 301.4, "i2": 304.5, "p": 23380.8, "p2": 23380.8}, {"i": 304.5, "i2": 304.5, "p": 23380.8, "p2": 23378.6}]},
      "mark": {"type": "rule", "color": "#d42a10", "strokeWidth": 1},
      "encoding": {
        "x2": {"field": "i2"},
        "y": {"field": "p", "type": "quantitative", "title": null, "scale": {"domain": [22790.2, 23415.6], "nice": false, "zero": false, "padding": 0}},
        "y2": {"field": "p2"}
      }
    },
    {
      "data": {"values": [{"i": 304.5, "p": 23378.3}]},
      "mark": {"type": "point", "shape": "triangle-down", "filled": true, "size": 14, "color": "#d42a10"},
      "encoding": {"y": {"field": "p", "type": "quantitative", "title": null, "scale": {"domain": [22790.2, 23415.6], "nice": false, "zero": false, "padding": 0}}}
    },
    {
      "data": {"values": [{"i": 342.9, "p": 23376.7}]},
      "mark": {"type": "point", "shape": "M-1,0L-0.7,-0.61L1,-0.61L1,0.61L-0.7,0.61Z", "filled": true, "size": 3481, "color": "#c9331a", "opacity": 1},
      "encoding": {"y": {"field": "p", "type": "quantitative", "title": null, "scale": {"domain": [22790.2, 23415.6], "nice": false, "zero": false, "padding": 0}}}
    },
    {
      "data": {"values": [{"i": 348.9, "p": 23384.7}]},
      "mark": {"type": "text", "align": "right", "baseline": "middle", "fontSize": 11.5, "lineHeight": 12.4, "color": "#ffffff", "text": ["23375,50", "+0,34%", "▲79,00"]},
      "encoding": {"y": {"field": "p", "type": "quantitative", "title": null, "scale": {"domain": [22790.2, 23415.6], "nice": false, "zero": false, "padding": 0}}}
    },
    {
      "data": {"values": [{"i": 345.8, "p": 23410.2, "t": "L"}, {"i": 348.8, "p": 23410.2, "t": "I"}]},
      "mark": {"type": "point", "shape": "square", "filled": true, "size": 100, "color": "#d4d4d4", "opacity": 1},
      "encoding": {"y": {"field": "p", "type": "quantitative", "title": null, "scale": {"domain": [22790.2, 23415.6], "nice": false, "zero": false, "padding": 0}}}
    },
    {
      "data": {"values": [{"i": 345.8, "p": 23410.2, "t": "L"}, {"i": 348.8, "p": 23410.2, "t": "I"}]},
      "mark": {"type": "text", "align": "center", "baseline": "middle", "fontSize": 10, "fontWeight": "bold", "color": "#000000", "font": "DejaVu Sans"},
      "encoding": {
        "y": {"field": "p", "type": "quantitative", "title": null, "scale": {"domain": [22790.2, 23415.6], "nice": false, "zero": false, "padding": 0}},
        "text": {"field": "t"}
      }
    }
  ]
}
